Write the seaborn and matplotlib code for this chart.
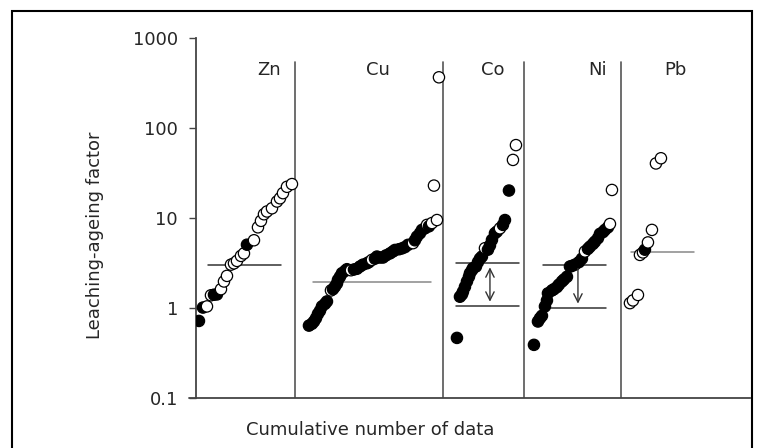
import numpy as np
import pandas as pd
import matplotlib
matplotlib.use("Agg")
import matplotlib.pyplot as plt
import seaborn as sns
from matplotlib.patches import Rectangle

sns.set_style("white")
plt.rcParams["font.family"] = ["DejaVu Sans"]

# cumulative number of data (x), leaching-ageing factor (y), filled marker flag
zn_n = [3, 7, 11, 15, 18, 21, 25, 28, 31, 35, 38, 41, 45, 48, 51, 58, 62, 65, 68, 71, 76, 81, 84, 87, 91, 96]
zn_f = [0.71, 1.0, 1.03, 1.37, 1.39, 1.40, 1.6, 1.95, 2.25, 3.0, 3.1, 3.3, 3.75, 4.0, 5.0, 5.6, 7.8, 9.2,
        10.9, 11.7, 12.7, 15.1, 16.4, 18.7, 22, 23.6]
zn_filled = [1, 1, 0, 0, 1, 1, 0, 0, 0, 0, 0, 0, 0, 0, 1, 0, 0, 0, 0, 0, 0, 0, 0, 0, 0, 0]

cu_n = [113, 116, 118, 120, 122, 124, 126, 129, 131, 135, 137, 139, 141, 142, 144, 146, 149, 151, 155, 158,
        161, 164, 167, 171, 173, 176, 179, 181, 184, 187, 190, 194, 197, 199, 203, 206, 209, 212, 217, 219,
        221, 224, 226, 229, 231, 233, 236, 238, 241, 243]
cu_f = [0.63, 0.66, 0.70, 0.76, 0.85, 0.92, 1.03, 1.1, 1.17, 1.55, 1.6, 1.71, 1.85, 2.03, 2.2, 2.41, 2.55,
        2.67, 2.6, 2.65, 2.7, 2.86, 3.0, 3.11, 3.2, 3.39, 3.5, 3.69, 3.6, 3.6, 3.8, 4.0, 4.2, 4.37, 4.45,
        4.55, 4.7, 4.98, 5.2, 5.6, 6.15, 6.7, 7.3, 7.6, 8.3, 8.0, 8.7, 22.7, 9.4, 363]
cu_filled = [1, 1, 1, 1, 1, 1, 1, 1, 1, 0, 1, 1, 1, 1, 1, 1, 1, 1, 0, 1, 1, 1, 1, 1, 1, 0, 1, 1, 1, 1,
             1, 1, 1, 1, 1, 1, 1, 1, 0, 1, 1, 1, 1, 1, 0, 1, 0, 0, 0, 0]

co_n = [261, 264, 266, 267, 269, 271, 273, 274, 276, 277, 280, 282, 284, 286, 289, 292, 294, 296, 299,
        301, 304, 307, 309, 313, 317, 320]
co_f = [0.46, 1.32, 1.40, 1.5, 1.7, 1.95, 2.2, 2.41, 2.6, 2.74, 2.86, 3.2, 3.5, 3.69, 4.57, 4.4, 4.9,
        5.65, 6.7, 7.0, 7.6, 8.3, 9.4, 20, 43.8, 64]
co_filled = [1, 1, 1, 1, 1, 1, 1, 1, 1, 1, 1, 1, 1, 1, 0, 1, 1, 1, 1, 1, 0, 1, 1, 1, 0, 0]

ni_n = [338, 342, 344, 346, 349, 351, 352, 356, 358, 361, 363, 366, 368, 371, 374, 376, 379, 383, 386,
        389, 392, 394, 397, 399, 402, 404, 407, 409, 412, 414, 416]
ni_f = [0.385, 0.70, 0.76, 0.81, 1.03, 1.2, 1.44, 1.55, 1.6, 1.69, 1.8, 1.95, 2.05, 2.2, 2.86, 2.9, 3.0,
        3.2, 3.5, 4.2, 4.5, 4.75, 5.1, 5.4, 5.9, 6.6, 6.9, 7.3, 7.8, 8.5, 20.3]
ni_filled = [1, 1, 1, 1, 1, 1, 1, 1, 1, 1, 1, 1, 1, 1, 1, 1, 1, 1, 1, 0, 1, 1, 1, 1, 1, 1, 1, 1, 1, 0, 0]

pb_n = [434, 437, 442, 444, 447, 449, 452, 456, 460, 465]
pb_f = [1.12, 1.2, 1.38, 3.85, 4.1, 4.4, 5.3, 7.3, 40, 45.7]
pb_filled = [0, 0, 0, 0, 0, 1, 0, 0, 0, 0]

metals = ["Zn", "Cu", "Co", "Ni", "Pb"]
label_n = [73, 182, 297, 402, 479]
dividers = [99, 247, 328, 425]

# horizontal reference levels: metal, level, start, end
ref_metal = ["Zn", "Cu", "Co", "Co", "Ni", "Ni", "Pb"]
ref_level = [3.0, 1.9, 3.1, 1.05, 3.0, 1.0, 4.19]
ref_start = [12, 117, 260, 260, 347, 347, 435]
ref_end = [85, 235, 323, 323, 410, 410, 498]

frames = []
for m, n, f, fl in zip(metals, [zn_n, cu_n, co_n, ni_n, pb_n], [zn_f, cu_f, co_f, ni_f, pb_f],
                       [zn_filled, cu_filled, co_filled, ni_filled, pb_filled]):
    frames.append(pd.DataFrame({"metal": m, "n": n, "factor": f,
                                "kind": ["filled" if k else "open" for k in fl]}))
df = pd.concat(frames, ignore_index=True)

fig = plt.figure(figsize=(7.64, 4.48), dpi=100)
ax = fig.add_axes([0.2565, 0.1127, 0.7251, 0.8031])

sns.scatterplot(data=df, x="n", y="factor", hue="kind",
                palette={"filled": "black", "open": "white"},
                edgecolor="black", linewidth=0.9, s=66, legend=False, ax=ax, zorder=3)

ax.set_yscale("log")
ax.set_ylim(0.1, 1000)
ax.set_xlim(0, 554)
ax.set_yticks([0.1, 1, 10, 100, 1000])
ax.set_yticklabels(["0.1", "1", "10", "100", "1000"])
ax.minorticks_off()
ax.set_xticks([])
ax.tick_params(axis="y", direction="out", length=5, width=1, color="#444444",
               labelsize=13, pad=8, left=True)
for side in ["top", "right"]:
    ax.spines[side].set_visible(False)
for side in ["left", "bottom"]:
    ax.spines[side].set_color("#444444")
    ax.spines[side].set_linewidth(1.3)
ax.plot([-7, 0], [0.1, 0.1], color="#444444", lw=1.3, clip_on=False)

for d in dividers:
    ax.plot([d, d], [0.1, 540], color="#555555", lw=1.2, zorder=1)

for m, lv, a, b in zip(ref_metal, ref_level, ref_start, ref_end):
    c = "#888888" if m in ("Cu", "Pb") else "#333333"
    ax.plot([a, b], [lv, lv], color=c, lw=1.1, zorder=2)

# spread between the two reference levels
ax.annotate("", xy=(294, ref_level[3] * 1.03), xytext=(294, ref_level[2] * 0.97),
            arrowprops=dict(arrowstyle="<->,head_length=0.6,head_width=0.3", color="#333333", lw=1.0))
ax.annotate("", xy=(382, ref_level[5] * 1.03), xytext=(382, ref_level[4] * 0.97),
            arrowprops=dict(arrowstyle="->,head_length=0.6,head_width=0.3", color="#333333", lw=1.0),
            zorder=4)

for m, x in zip(metals, label_n):
    ax.text(x, 433, m, ha="center", va="center", fontsize=13)

ax.set_xlabel("Cumulative number of data", fontsize=13, va="center")
ax.xaxis.set_label_coords(0.314, -0.09)
ax.set_ylabel("Leaching-ageing factor", fontsize=13, va="center")
ax.yaxis.set_label_coords(-0.182, 0.451)

fig.patches.append(Rectangle((0.0157, -0.05), 0.9683, 1.0254, transform=fig.transFigure,
                             fill=False, edgecolor="black", lw=1.5))

fig.savefig("out.png", dpi=100)
